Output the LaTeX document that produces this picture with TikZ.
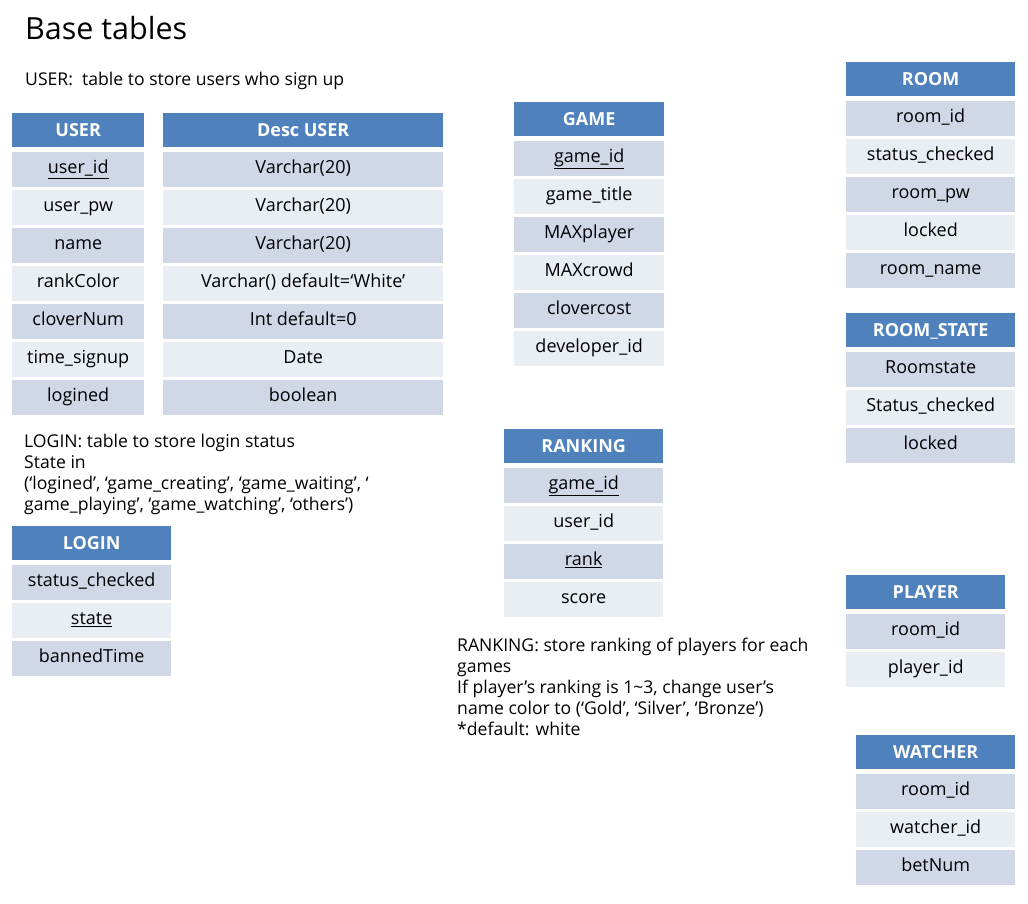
\documentclass[tikz,border=0pt]{standalone}
\usepackage{fontspec}
\setmainfont{Open Sans}
\usetikzlibrary{positioning}
\definecolor{hdrblue}{HTML}{4F81BD}
\definecolor{rowdark}{HTML}{D0D8E8}
\definecolor{rowlight}{HTML}{E9EDF4}
\begin{document}
\begin{tikzpicture}[x=1pt,y=-1pt,
  hdr/.style={anchor=north west, fill=hdrblue, text=white, inner sep=0pt,
    minimum height=34pt, text height=13pt, text depth=1pt,
    font=\fontsize{18}{20}\selectfont\bfseries},
  cell/.style={anchor=north west, inner sep=0pt, minimum height=35pt,
    text height=12pt, text depth=4pt, font=\fontsize{18}{20}\selectfont},
  note/.style={anchor=base west, inner sep=0pt, font=\fontsize{17.6}{21}\selectfont}]
  \useasboundingbox (0,0) rectangle (1028,903);

  % titles
  \node[anchor=base west, inner sep=0pt, font=\fontsize{30.5}{34}\selectfont] (title) at (25,39) {Base tables};
  \node[note] (user-note) at (25,85) {USER:\ \ table to store users who sign up};

  % USER
  \node[hdr, minimum width=132pt] (user) at (12,113) {USER};
  \foreach \t [count=\i] in {{\underline{user\_id}},user\_pw,name,rankColor,cloverNum,time\_signup,logined} {
    \ifodd\i\def\rc{rowdark}\else\def\rc{rowlight}\fi
    \node[cell, fill=\rc, minimum width=132pt] (user-\i) at (12,{113+1+38*\i}) {\t};
  }

  % Desc USER
  \node[hdr, minimum width=280pt] (desc) at (163,113) {Desc USER};
  \foreach \t [count=\i] in {Varchar(20),Varchar(20),Varchar(20),Varchar() default=‘White’,Int default=0,Date,boolean} {
    \ifodd\i\def\rc{rowdark}\else\def\rc{rowlight}\fi
    \node[cell, fill=\rc, minimum width=280pt] (desc-\i) at (163,{113+1+38*\i}) {\t};
  }

  % GAME
  \node[hdr, minimum width=150pt] (game) at (514,102) {GAME};
  \foreach \t [count=\i] in {{\underline{game\_id}},game\_title,MAXplayer,MAXcrowd,clovercost,developer\_id} {
    \ifodd\i\def\rc{rowdark}\else\def\rc{rowlight}\fi
    \node[cell, fill=\rc, minimum width=150pt] (game-\i) at (514,{102+1+38*\i}) {\t};
  }

  % ROOM
  \node[hdr, minimum width=169pt] (room) at (846,62) {ROOM};
  \foreach \t [count=\i] in {room\_id,status\_checked,room\_pw,locked,room\_name} {
    \ifodd\i\def\rc{rowdark}\else\def\rc{rowlight}\fi
    \node[cell, fill=\rc, minimum width=169pt] (room-\i) at (846,{62+1+38*\i}) {\t};
  }

  % ROOM_STATE
  \node[hdr, minimum width=169pt] (roomstate) at (846,313) {ROOM\_STATE};
  \foreach \t [count=\i] in {Roomstate,Status\_checked,locked} {
    \ifodd\i\def\rc{rowdark}\else\def\rc{rowlight}\fi
    \node[cell, fill=\rc, minimum width=169pt] (roomstate-\i) at (846,{313+1+38*\i}) {\t};
  }

  % LOGIN
  \foreach \t [count=\i] in {LOGIN: table to store login status,State in,
      {(‘logined’, ‘game\_creating’, ‘game\_waiting’, ‘},
      {game\_playing’, ‘game\_watching’, ‘others’)}} {
    \node[note] (login-note-\i) at (24,{447+21.3*(\i-1)}) {\t};
  }
  \node[hdr, minimum width=159pt] (login) at (12,526) {LOGIN};
  \foreach \t [count=\i] in {status\_checked,{\underline{state}},bannedTime} {
    \ifodd\i\def\rc{rowdark}\else\def\rc{rowlight}\fi
    \node[cell, fill=\rc, minimum width=159pt] (login-\i) at (12,{526+1+38*\i}) {\t};
  }

  % RANKING
  \node[hdr, minimum width=159pt] (ranking) at (504,429) {RANKING};
  \foreach \t [count=\i] in {{\underline{game\_id}},user\_id,{\underline{rank}},score} {
    \ifodd\i\def\rc{rowdark}\else\def\rc{rowlight}\fi
    \node[cell, fill=\rc, minimum width=159pt] (ranking-\i) at (504,{429+1+38*\i}) {\t};
  }
  \foreach \t [count=\i] in {RANKING: store ranking of players for each,games,
      {If player’s ranking is 1\textasciitilde3, change user’s},
      {name color to (‘Gold’, ‘Silver’, ‘Bronze’)},*default: white} {
    \node[note] (ranking-note-\i) at (457,{651+21.2*(\i-1)}) {\t};
  }

  % PLAYER
  \node[hdr, minimum width=159pt] (player) at (846,575) {PLAYER};
  \foreach \t [count=\i] in {room\_id,player\_id} {
    \ifodd\i\def\rc{rowdark}\else\def\rc{rowlight}\fi
    \node[cell, fill=\rc, minimum width=159pt] (player-\i) at (846,{575+1+38*\i}) {\t};
  }

  % WATCHER
  \node[hdr, minimum width=159pt] (watcher) at (856,735) {WATCHER};
  \foreach \t [count=\i] in {room\_id,watcher\_id,betNum} {
    \ifodd\i\def\rc{rowdark}\else\def\rc{rowlight}\fi
    \node[cell, fill=\rc, minimum width=159pt] (watcher-\i) at (856,{735+1+38*\i}) {\t};
  }
\end{tikzpicture}
\end{document}
